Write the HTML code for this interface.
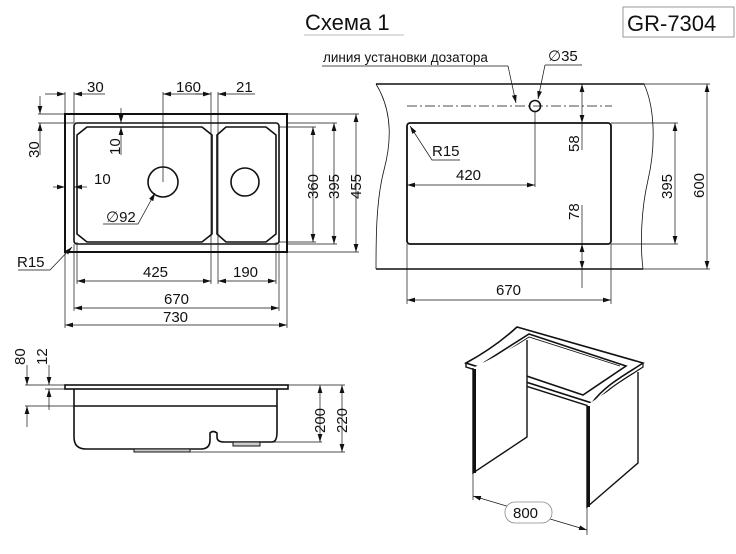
<!DOCTYPE html>
<html><head><meta charset="utf-8"><style>
html,body{margin:0;padding:0;background:#fff;}
svg{display:block;}
text{font-family:"Liberation Sans","DejaVu Sans",sans-serif;fill:#111;}
</style></head><body>
<svg width="736" height="554" viewBox="0 0 736 554" xmlns="http://www.w3.org/2000/svg">
<defs>
<marker id="a" viewBox="0 0 10 6" refX="10" refY="3" markerWidth="8" markerHeight="5" orient="auto-start-reverse" markerUnits="userSpaceOnUse"><path d="M0,0 L10,3 L0,6 z" fill="#111"/></marker>
</defs>
<g stroke="#111" fill="none">
<text x="305" y="30" font-size="22" stroke="none">Схема 1</text>
<line x1="304" y1="35" x2="404" y2="35" stroke="#bbb"/>
<rect x="623" y="7" width="111" height="30" stroke="#999"/>
<text x="627" y="31" font-size="22" stroke="none">GR-7304</text>

<rect x="65" y="114" width="222" height="138" stroke-width="2"/>
<rect x="74" y="123" width="205" height="121" rx="3" stroke-width="1.6"/>
<path d="M87,127 H202 L212,135 V234 L202,242 H87 L77,234 V135 Z" stroke-width="1.6"/>
<path d="M226,127 H266 L276,135 V234 L266,242 H226 L217,234 V135 Z" stroke-width="1.6"/>
<circle cx="163" cy="182" r="15" stroke-width="1.6"/>
<circle cx="245" cy="182" r="14" stroke-width="1.6"/>
<g stroke-width="0.7">
<line x1="65" y1="114" x2="65" y2="92"/><line x1="74" y1="123" x2="74" y2="92"/>
<line x1="45" y1="94" x2="65" y2="94" marker-end="url(#a)"/><line x1="105" y1="94" x2="74" y2="94" marker-end="url(#a)"/>
<line x1="163" y1="182" x2="163" y2="92"/><line x1="211" y1="92" x2="211" y2="284"/><line x1="218" y1="92" x2="218" y2="284"/>
<line x1="163" y1="94" x2="211" y2="94" marker-start="url(#a)" marker-end="url(#a)"/>
<line x1="218" y1="94" x2="255" y2="94" marker-start="url(#a)"/><line x1="195" y1="94" x2="211" y2="94"/>
<line x1="38" y1="114" x2="65" y2="114"/><line x1="38" y1="123" x2="74" y2="123"/>
<line x1="40" y1="96" x2="40" y2="114" marker-end="url(#a)"/><line x1="40" y1="155" x2="40" y2="123" marker-end="url(#a)"/>
<line x1="121" y1="108" x2="121" y2="123" marker-end="url(#a)"/><line x1="121" y1="155" x2="121" y2="127" marker-end="url(#a)"/>
<line x1="53" y1="187" x2="65" y2="187" marker-end="url(#a)"/><line x1="87" y1="187" x2="74" y2="187" marker-end="url(#a)"/>
<polyline points="103,224 138,224 155,193" marker-end="url(#a)"/>
<polyline points="18,270 50,270 72,247" marker-end="url(#a)"/>
<line x1="279" y1="127" x2="316" y2="127"/><line x1="279" y1="242" x2="316" y2="242"/>
<line x1="287" y1="123" x2="337" y2="123"/><line x1="287" y1="244" x2="337" y2="244"/>
<line x1="287" y1="114" x2="359" y2="114"/><line x1="287" y1="252" x2="359" y2="252"/>
<line x1="313" y1="127" x2="313" y2="242" marker-start="url(#a)" marker-end="url(#a)"/>
<line x1="334" y1="123" x2="334" y2="244" marker-start="url(#a)" marker-end="url(#a)"/>
<line x1="356" y1="114" x2="356" y2="252" marker-start="url(#a)" marker-end="url(#a)"/>
<line x1="77" y1="242" x2="77" y2="284"/><line x1="276" y1="242" x2="276" y2="284"/>
<line x1="74" y1="244" x2="74" y2="311"/><line x1="279" y1="244" x2="279" y2="311"/>
<line x1="65" y1="252" x2="65" y2="328"/><line x1="287" y1="252" x2="287" y2="328"/>
<line x1="77" y1="281" x2="211" y2="281" marker-start="url(#a)" marker-end="url(#a)"/>
<line x1="218" y1="281" x2="276" y2="281" marker-start="url(#a)" marker-end="url(#a)"/>
<line x1="74" y1="308" x2="279" y2="308" marker-start="url(#a)" marker-end="url(#a)"/>
<line x1="65" y1="325" x2="287" y2="325" marker-start="url(#a)" marker-end="url(#a)"/>
</g>
<g stroke="none" font-size="15">
<text x="87" y="92">30</text><text x="176" y="92">160</text><text x="236" y="92">21</text>
<text x="94" y="184">10</text><text x="106" y="222">∅92</text><text x="17" y="267">R15</text>
<text x="143" y="277">425</text><text x="233" y="277">190</text>
<text x="164" y="304">670</text><text x="163" y="322">730</text>
<text transform="translate(39,158) rotate(-90)">30</text>
<text transform="translate(120,155) rotate(-90)">10</text>
<text transform="translate(318,199) rotate(-90)">360</text>
<text transform="translate(339,199) rotate(-90)">395</text>
<text transform="translate(361,199) rotate(-90)">455</text>
</g>

<line x1="376" y1="84" x2="644" y2="84" stroke-width="1.6"/>
<line x1="376" y1="269" x2="643" y2="269" stroke-width="1.6"/>
<path d="M376,84 C392,110 392,140 384,170 C376,200 376,240 376,269" stroke-width="0.8"/>
<path d="M644,84 C656,110 655,150 648,180 C641,210 640,245 643,269" stroke-width="0.8"/>
<line x1="407" y1="106" x2="612" y2="106" stroke-width="0.7" stroke-dasharray="10,3,2,3"/>
<circle cx="535" cy="106" r="5.5" stroke-width="1.6"/>
<rect x="407" y="123" width="204" height="121" rx="3" stroke-width="1.8"/>
<g stroke-width="0.7">
<line x1="535" y1="112" x2="535" y2="187"/>
<line x1="407" y1="185" x2="535" y2="185" marker-start="url(#a)" marker-end="url(#a)"/>
<polyline points="460,160 432,160 410,126" marker-end="url(#a)"/>
<line x1="582" y1="84" x2="582" y2="123" marker-start="url(#a)" marker-end="url(#a)"/>
<line x1="582" y1="123" x2="582" y2="150"/>
<line x1="582" y1="205" x2="582" y2="244"/>
<line x1="582" y1="244" x2="582" y2="269" marker-start="url(#a)" marker-end="url(#a)"/>
<line x1="582" y1="269" x2="582" y2="288"/>
<line x1="611" y1="123" x2="678" y2="123"/><line x1="611" y1="244" x2="678" y2="244"/>
<line x1="644" y1="84" x2="710" y2="84"/><line x1="643" y1="269" x2="710" y2="269"/>
<line x1="675" y1="123" x2="675" y2="244" marker-start="url(#a)" marker-end="url(#a)"/>
<line x1="707" y1="84" x2="707" y2="269" marker-start="url(#a)" marker-end="url(#a)"/>
<line x1="407" y1="244" x2="407" y2="304"/><line x1="611" y1="244" x2="611" y2="304"/>
<line x1="407" y1="300" x2="611" y2="300" marker-start="url(#a)" marker-end="url(#a)"/>
<line x1="322" y1="66" x2="508" y2="66"/><polyline points="508,66 516,103" marker-end="url(#a)"/>
<line x1="545" y1="65" x2="582" y2="65"/><polyline points="545,65 538,99" marker-end="url(#a)"/>
</g>
<g stroke="none" font-size="15">
<text x="323" y="62" font-size="13.5">линия установки дозатора</text>
<text x="548" y="61">∅35</text>
<text x="432" y="156">R15</text><text x="456" y="180">420</text><text x="496" y="295">670</text>
<text transform="translate(579,152) rotate(-90)">58</text>
<text transform="translate(579,220) rotate(-90)">78</text>
<text transform="translate(672,199) rotate(-90)">395</text>
<text transform="translate(704,198) rotate(-90)">600</text>
</g>

<rect x="65" y="385" width="223" height="4" stroke-width="1.6"/>
<path d="M74,389 V437 Q74,449 86,449 H201 Q210,449 210,440 V433 Q213,430 217,433 V437 Q217,442 224,442 H272 Q277,442 277,432 V389" stroke-width="1.6"/>
<line x1="74" y1="406" x2="277" y2="406" stroke-width="1.4"/>
<rect x="134" y="449" width="56" height="3" stroke-width="1" fill="#ccc"/>
<rect x="233" y="442" width="27" height="4" stroke-width="1" fill="#ccc"/>
<g stroke-width="0.7">
<line x1="25" y1="385" x2="65" y2="385"/><line x1="25" y1="406" x2="74" y2="406"/><line x1="45" y1="389" x2="65" y2="389"/>
<line x1="27" y1="365" x2="27" y2="385" marker-end="url(#a)"/><line x1="27" y1="427" x2="27" y2="406" marker-end="url(#a)"/>
<line x1="49" y1="365" x2="49" y2="385" marker-end="url(#a)"/><line x1="49" y1="410" x2="49" y2="389" marker-end="url(#a)"/>
<line x1="288" y1="385" x2="345" y2="385"/>
<line x1="260" y1="442" x2="322" y2="442"/><line x1="190" y1="452" x2="345" y2="452"/>
<line x1="320" y1="385" x2="320" y2="442" marker-start="url(#a)" marker-end="url(#a)"/>
<line x1="342" y1="385" x2="342" y2="452" marker-start="url(#a)" marker-end="url(#a)"/>
</g>
<g stroke="none" font-size="15">
<text transform="translate(25,365) rotate(-90)">80</text>
<text transform="translate(47,365) rotate(-90)">12</text>
<text transform="translate(325,433) rotate(-90)">200</text>
<text transform="translate(347,433) rotate(-90)">220</text>
</g>

<path d="M466,363 C490,350 505,338 517,327 L643,363 C625,375 605,385 592,403 Z" stroke-width="1.6" fill="#fff"/>
<path d="M466,363 V367 L592,407 V403" stroke-width="1.4"/>
<path d="M592,407 C605,389 625,379 643,367 V363" stroke-width="1.2"/>
<path d="M485,362 L529,334 L626,366 L583,395 Z" stroke-width="1.6"/>
<path d="M490,362 L529,337 L620,366" stroke-width="0.8"/>
<path d="M473,368 V473 L527,437 V340" stroke-width="1.4" fill="#fff"/>
<line x1="474.5" y1="369" x2="474.5" y2="473" stroke-width="3"/>
<path d="M587,405 V507 L638,463 V372" stroke-width="1.4" fill="#fff"/>
<line x1="588.5" y1="406" x2="588.5" y2="507" stroke-width="3"/>
<g stroke-width="0.7">
<line x1="473" y1="473" x2="473" y2="500"/><line x1="587" y1="507" x2="587" y2="535"/>
<line x1="473" y1="496" x2="587" y2="530" marker-start="url(#a)" marker-end="url(#a)"/>
</g>
<rect x="505" y="502" width="47" height="21" rx="10" fill="#fff" stroke="#888" stroke-width="0.8"/>
<text x="513" y="518" font-size="15" stroke="none">800</text>
</g>
</svg>
</body></html>
